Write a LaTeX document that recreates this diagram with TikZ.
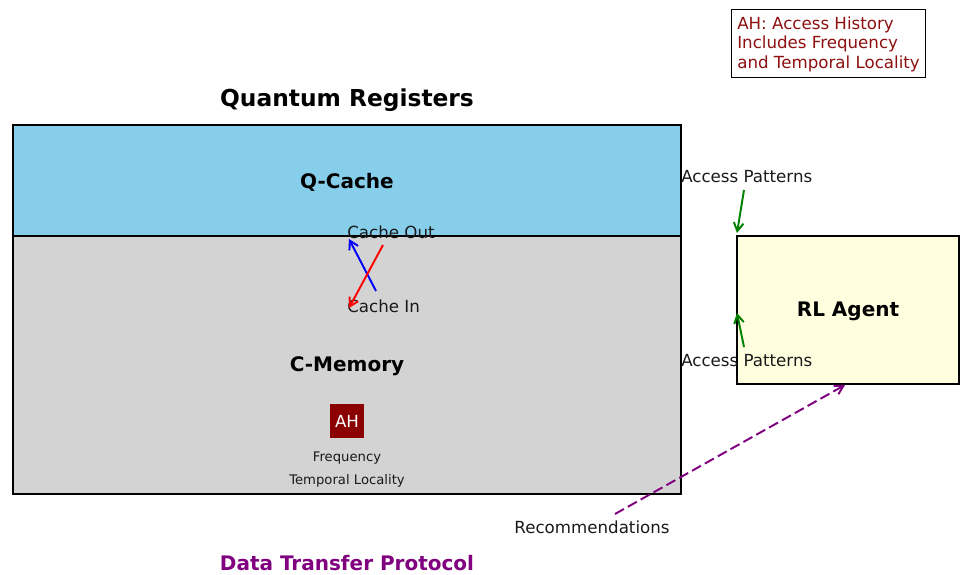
\documentclass[tikz,border=0pt]{standalone}
\usepackage{fontspec}
\setmainfont{DejaVu Sans}
\usetikzlibrary{arrows.meta}
\definecolor{qcache}{HTML}{87CEEB}
\definecolor{cmem}{HTML}{D3D3D3}
\definecolor{rlfill}{HTML}{FFFFE0}
\definecolor{ahred}{HTML}{8B0000}
\definecolor{legred}{HTML}{8E0F0F}
\definecolor{mpgreen}{HTML}{008000}
\definecolor{mppurple}{HTML}{800080}
\tikzset{
  region/.style={draw=black, line width=1.44pt, anchor=north west, inner sep=0pt, outer sep=0pt},
  lbl/.style={font=\fontsize{12}{14}\selectfont, text=black!90, inner sep=0pt},
  boldlbl/.style={font=\fontsize{14.4}{16}\selectfont\bfseries, inner sep=0pt},
  smalllbl/.style={font=\fontsize{9.5}{11}\selectfont, text=black!90, inner sep=0pt},
  flow/.style={line width=1.4pt, -{Straight Barb[length=6pt,width=7pt,line width=1.4pt]}},
}
\begin{document}
\begin{tikzpicture}[x=0.72pt,y=-0.72pt]
\useasboundingbox (0,0) rectangle (960,575);
% regions
\node[region, fill=qcache, minimum width={668*0.72pt}, minimum height={111*0.72pt}] (qbox) at (13,125) {};
\node[region, fill=cmem, minimum width={668*0.72pt}, minimum height={258*0.72pt}] (cbox) at (13,236) {};
\node[region, fill=rlfill, minimum width={222*0.72pt}, minimum height={148*0.72pt}] (rl) at (737,236) {};
% titles
\node[font=\fontsize{16.8}{19}\selectfont\bfseries, inner sep=0pt] (title) at (347,100.5) {Quantum Registers};
\node[font=\fontsize{14.4}{17}\selectfont\bfseries, text=mppurple, inner sep=0pt] (proto) at (347,563.5) {Data Transfer Protocol};
\node[boldlbl] (qlabel) at (347,182.5) {Q-Cache};
\node[boldlbl] (clabel) at (347,366.5) {C-Memory};
\node[boldlbl] (rllabel) at (848,311.5) {RL Agent};
% cache labels
\node[lbl, anchor=west] (cout) at (347,232) {Cache Out};
\node[lbl, anchor=west] (cin) at (347,306) {Cache In};
\coordinate (bs) at (376,291);
\coordinate (be) at (349,239);
\coordinate (rs) at (383,245);
\coordinate (re) at (349,308);
\draw[flow, blue] (bs) -- (be);
\draw[flow, red] (rs) -- (re);
% AH
\node[fill=ahred, minimum width={34*0.72pt}, minimum height={34*0.72pt}, inner sep=0pt, text=white, font=\fontsize{12}{14}\selectfont] (ah) at (347,421) {AH};
\node[smalllbl] (freq) at (347,458.5) {Frequency};
\node[smalllbl] (temp) at (347,480.5) {Temporal Locality};
% access patterns
\node[lbl, anchor=west] (ap1) at (681,177) {Access Patterns};
\node[lbl, anchor=west] (ap2) at (681,361) {Access Patterns};
\coordinate (g1s) at (744,190);
\coordinate (g1e) at (737,233);
\coordinate (g2s) at (744,347);
\coordinate (g2e) at (737,313);
\draw[flow, mpgreen] (g1s) -- (g1e);
\draw[flow, mpgreen] (g2s) -- (g2e);
% recommendations
\node[lbl] (rec) at (592,527) {Recommendations};
\coordinate (ps) at (615,514);
\coordinate (pe) at (845,385);
\draw[flow, mppurple, dash pattern=on 7.4pt off 3.2pt] (ps) -- (pe);
% legend
\node[draw=black, line width=1pt, fill=white, anchor=north west, inner sep=0pt, minimum width={194*0.72pt}, minimum height={68*0.72pt}] (legbox) at (731,9) {};
\node[anchor=west, align=left, text=legred, font=\fontsize{12}{14}\selectfont, inner sep=0pt] (legend) at (737,44) {AH: Access History\\Includes Frequency\\and Temporal Locality};
\end{tikzpicture}
\end{document}
